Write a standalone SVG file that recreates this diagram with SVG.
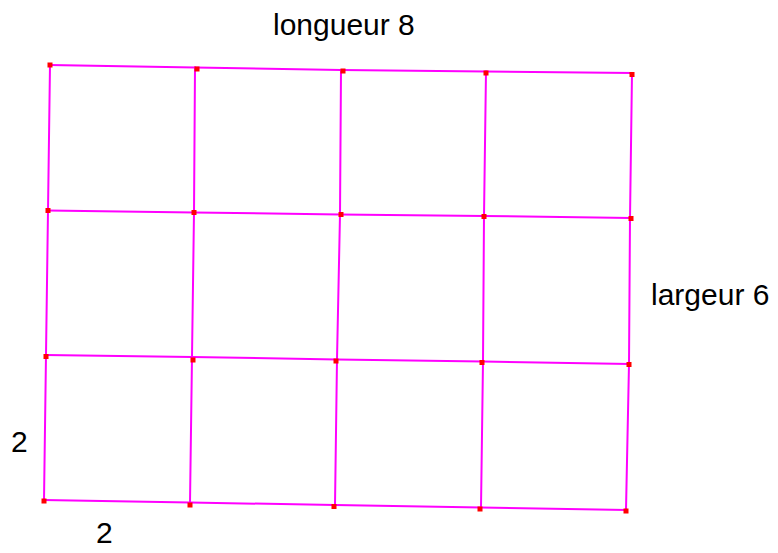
<svg xmlns="http://www.w3.org/2000/svg" width="778" height="553" viewBox="0 0 778 553">
<style>
.g{stroke:#ff00ff;stroke-width:2;fill:none;stroke-linecap:square}
.m{fill:#ff0000}
.t{font-family:"Liberation Sans",Arial,sans-serif;font-size:30px;fill:#000}
</style>
<rect width="778" height="553" fill="#fff"/>
<g id="connectors" class="g">
<polyline points="50,65 195,67.5 341,70 486,71.5 632,73"/>
<polyline points="48,210.5 194,212.5 340,214.5 484,216 630,218"/>
<polyline points="46,355 192,357 337,359.5 483,361.5 629,364"/>
<polyline points="44,500 190,502.5 335,505 481,507.5 626,510"/>
<polyline points="50,65 48,210.5 46,355 44,500"/>
<polyline points="195,67.5 194,212.5 192,357 190,502.5"/>
<polyline points="341,70 340,214.5 337,359.5 335,505"/>
<polyline points="486,71.5 484,216 483,361.5 481,507.5"/>
<polyline points="632,73 630,218 629,364 626,510"/>
</g>
<g id="points" class="m">
<rect x="47.5" y="62.5" width="5" height="5"/>
<rect x="194.5" y="66.5" width="5" height="5"/>
<rect x="340.5" y="68.5" width="5" height="5"/>
<rect x="483.5" y="70.5" width="5" height="5"/>
<rect x="629.5" y="72" width="5" height="5"/>
<rect x="45.5" y="208" width="5" height="5"/>
<rect x="191.5" y="210" width="5" height="5"/>
<rect x="338.5" y="212" width="5" height="5"/>
<rect x="481.5" y="214" width="5" height="5"/>
<rect x="628.5" y="216" width="5" height="5"/>
<rect x="43.5" y="354" width="5" height="5"/>
<rect x="190.5" y="357.5" width="5" height="5"/>
<rect x="333.5" y="358.5" width="5" height="5"/>
<rect x="479.5" y="360" width="5" height="5"/>
<rect x="626.5" y="362" width="5" height="5"/>
<rect x="41.5" y="498.5" width="5" height="5"/>
<rect x="187.5" y="502.5" width="5" height="5"/>
<rect x="331.5" y="504" width="5" height="5"/>
<rect x="477.5" y="506.5" width="5" height="5"/>
<rect x="623.5" y="508.5" width="5" height="5"/>
</g>
<g id="labels">
<text class="t" x="273" y="35">longueur 8</text>
<text class="t" x="651" y="305">largeur 6</text>
<text class="t" x="11" y="452">2</text>
<text class="t" x="96" y="543">2</text>
</g>
</svg>
